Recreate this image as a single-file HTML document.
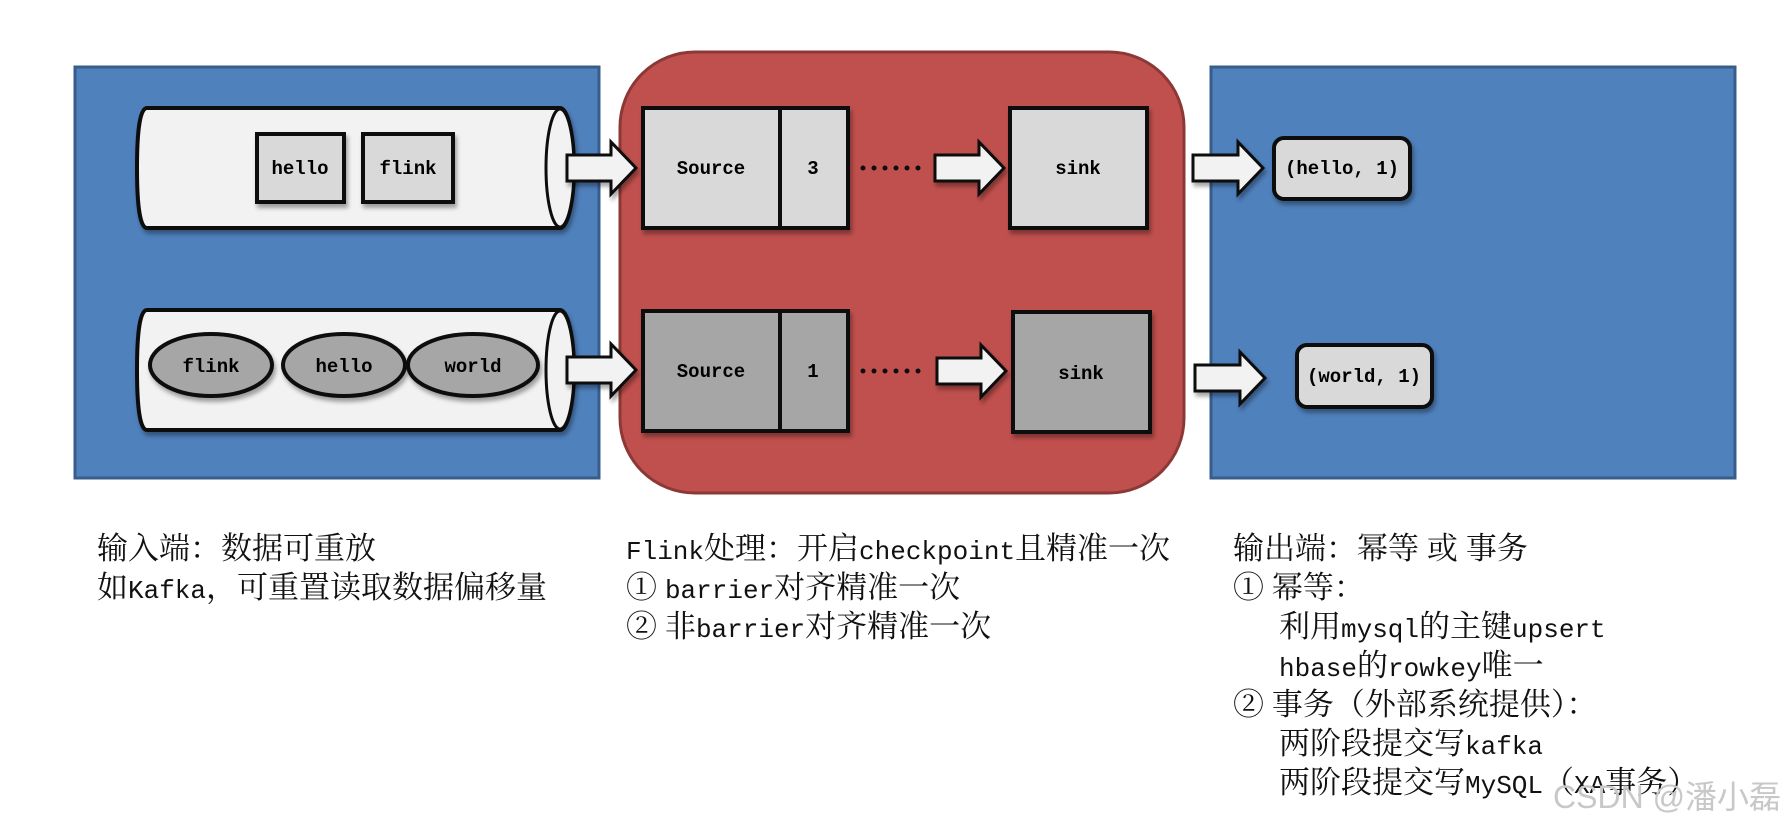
<!DOCTYPE html>
<html><head><meta charset="utf-8"><style>
html,body{margin:0;padding:0;background:#fff;}
body{width:1790px;height:824px;position:relative;overflow:hidden;}
.t{position:absolute;font-family:"Noto Serif CJK SC",serif;font-size:31px;color:#111;white-space:nowrap;}
.t div{height:39px;line-height:39px;}
.t span{font-family:"Liberation Mono",monospace;font-size:26px;line-height:0;}
</style></head><body>
<svg width="1790" height="824" style="position:absolute;left:0;top:0" xmlns="http://www.w3.org/2000/svg">
<defs>
<filter id="sh" x="-10%" y="-10%" width="130%" height="140%"><feDropShadow dx="2" dy="4" stdDeviation="2" flood-color="#000" flood-opacity="0.35"/></filter>
</defs>
<rect x="75" y="67" width="524" height="411" fill="#4f81bd" stroke="#385d8a" stroke-width="3"/>
<rect x="1211" y="67" width="524" height="411" fill="#4f81bd" stroke="#385d8a" stroke-width="3"/>
<rect x="620" y="52" width="564" height="441" rx="75" ry="75" fill="#c0504d" stroke="#8c3836" stroke-width="3"/>
<g font-family="Liberation Mono, monospace" font-weight="bold" font-size="19" text-anchor="middle" fill="#000">
<g filter="url(#sh)">
<path d="M147 108 H560 A14 60 0 0 1 560 228 H147 Q137 228 137 168 Q137 108 147 108 Z" fill="#f2f2f2" stroke="#0d0d0d" stroke-width="4"/>
<ellipse cx="560" cy="168" rx="14" ry="59" fill="#f2f2f2" stroke="#0d0d0d" stroke-width="3"/>
<path d="M147 310 H560 A14 60 0 0 1 560 430 H147 Q137 430 137 370 Q137 310 147 310 Z" fill="#f2f2f2" stroke="#0d0d0d" stroke-width="4"/>
<ellipse cx="560" cy="370" rx="14" ry="59" fill="#f2f2f2" stroke="#0d0d0d" stroke-width="3"/>
</g>
<g filter="url(#sh)" stroke="#0d0d0d" stroke-width="4">
<rect x="257" y="134" width="87" height="68" fill="#d9d9d9"/>
<rect x="363" y="134" width="90" height="68" fill="#d9d9d9"/>
<ellipse cx="211" cy="365" rx="61" ry="31" fill="#a6a6a6"/>
<ellipse cx="344" cy="365" rx="61" ry="31" fill="#a6a6a6"/>
<ellipse cx="473" cy="365" rx="65" ry="31" fill="#a6a6a6"/>
</g>
<text x="300" y="174">hello</text><text x="408" y="174">flink</text>
<text x="211" y="372">flink</text><text x="344" y="372">hello</text><text x="473" y="372">world</text>
<g fill="#f2f2f2" stroke="#0d0d0d" stroke-width="3" filter="url(#sh)">
<path d="M567 155 H611 V142 L636 168 L611 194 V181 H567 Z"/>
<path d="M567 357 H611 V344 L636 370 L611 396 V383 H567 Z"/>
<path d="M935 155 H979 V142 L1004 168 L979 194 V181 H935 Z"/>
<path d="M937 358 H981 V345 L1006 371 L981 397 V384 H937 Z"/>
<path d="M1193 155 H1238 V142 L1263 168 L1238 194 V181 H1193 Z"/>
<path d="M1195 365 H1240 V352 L1265 378 L1240 404 V391 H1195 Z"/>
</g>
<g stroke="#0d0d0d" stroke-width="4" filter="url(#sh)">
<rect x="643" y="108" width="205" height="120" fill="#d9d9d9"/>
<rect x="643" y="311" width="205" height="120" fill="#a6a6a6"/>
<rect x="1010" y="108" width="137" height="120" fill="#d9d9d9"/>
<rect x="1013" y="312" width="137" height="120" fill="#a6a6a6"/>
<rect x="1274" y="138" width="136" height="61" rx="10" fill="#d9d9d9"/>
<rect x="1297" y="345" width="135" height="62" rx="10" fill="#d9d9d9"/>
</g>
<line x1="780" y1="108" x2="780" y2="228" stroke="#0d0d0d" stroke-width="4"/>
<line x1="780" y1="311" x2="780" y2="431" stroke="#0d0d0d" stroke-width="4"/>
<text x="711" y="174">Source</text><text x="813" y="174">3</text>
<text x="711" y="377">Source</text><text x="813" y="377">1</text>
<text x="1078" y="174">sink</text><text x="1081" y="379">sink</text>
<text x="1342" y="174">(hello, 1)</text><text x="1364" y="382">(world, 1)</text>
<g fill="#0d0d0d">
<circle cx="863" cy="168" r="2.5"/><circle cx="874" cy="168" r="2.5"/><circle cx="885" cy="168" r="2.5"/><circle cx="896" cy="168" r="2.5"/><circle cx="907" cy="168" r="2.5"/><circle cx="918" cy="168" r="2.5"/>
<circle cx="863" cy="371" r="2.5"/><circle cx="874" cy="371" r="2.5"/><circle cx="885" cy="371" r="2.5"/><circle cx="896" cy="371" r="2.5"/><circle cx="907" cy="371" r="2.5"/><circle cx="918" cy="371" r="2.5"/>
</g>
</g>
</svg>
<div class="t" style="left:97px;top:526px"><div>输入端：数据可重放</div><div>如<span>Kafka</span>，可重置读取数据偏移量</div></div>
<div class="t" style="left:626px;top:526px"><div><span>Flink</span>处理：开启<span>checkpoint</span>且精准一次</div><div>① <span>barrier</span>对齐精准一次</div><div>② 非<span>barrier</span>对齐精准一次</div></div>
<div class="t" style="left:1233px;top:526px"><div>输出端：幂等 或 事务</div><div>① 幂等：</div><div style="padding-left:46px">利用<span>mysql</span>的主键<span>upsert</span></div><div style="padding-left:46px"><span>hbase</span>的<span>rowkey</span>唯一</div><div>② 事务（外部系统提供）：</div><div style="padding-left:46px">两阶段提交写<span>kafka</span></div><div style="padding-left:46px">两阶段提交写<span>MySQL</span>（<span>XA</span>事务）</div></div>
<div style="position:absolute;left:1553px;top:772px;font-family:'Liberation Sans','Noto Sans CJK SC',sans-serif;font-size:32px;color:#c8c8c8;white-space:nowrap;">CSDN @潘小磊</div>
</body></html>
